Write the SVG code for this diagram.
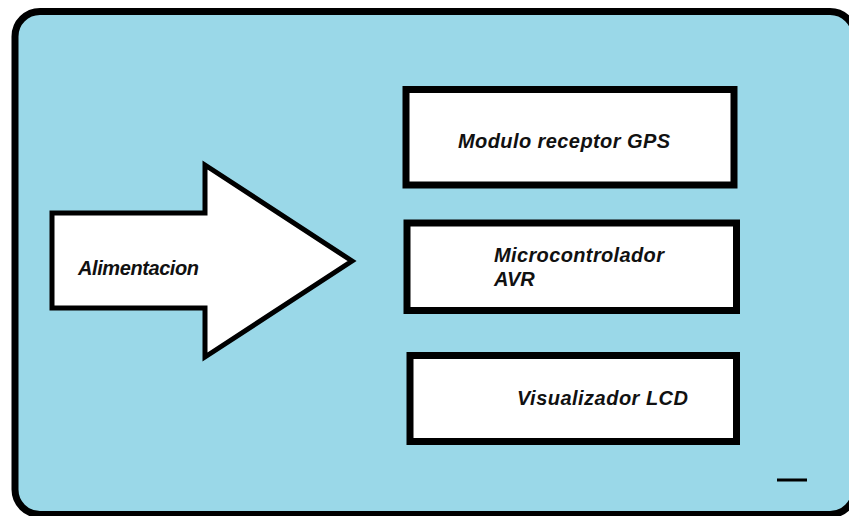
<svg xmlns="http://www.w3.org/2000/svg" width="849" height="516" viewBox="0 0 849 516">
<style>
.box{fill:#ffffff;stroke:#000000;stroke-width:7}
.lbl{font-family:"Liberation Sans",Arial,sans-serif;font-size:20px;font-weight:bold;font-style:italic;fill:#111111}
</style>
<rect x="0" y="0" width="849" height="516" fill="#ffffff"/>
<g id="board">
<rect x="15" y="11.5" width="840" height="503" rx="25" ry="25" fill="#9AD8E8" stroke="#000000" stroke-width="7"/>
</g>
<g id="alimentacion">
<polygon points="52,213 205,213 205,165 352,261 205,357 205,308 52,308" fill="#ffffff" stroke="#000000" stroke-width="5" stroke-linejoin="miter"/>
<text class="lbl" x="78" y="275" textLength="121">Alimentacion</text>
</g>
<g id="gps">
<rect class="box" x="406" y="89.5" width="328" height="95.5"/>
<text class="lbl" x="458" y="148" textLength="212">Modulo receptor GPS</text>
</g>
<g id="mcu">
<rect class="box" x="407" y="223" width="329.5" height="87.5"/>
<text class="lbl" x="494" y="262" textLength="170">Microcontrolador</text>
<text class="lbl" x="494" y="286">AVR</text>
</g>
<g id="lcd">
<rect class="box" x="410" y="355.5" width="326.5" height="86"/>
<text class="lbl" x="517" y="405" textLength="171">Visualizador LCD</text>
</g>
<g id="connectors">
<line x1="777" y1="480" x2="807" y2="480" stroke="#000000" stroke-width="3"/>
</g>
</svg>
